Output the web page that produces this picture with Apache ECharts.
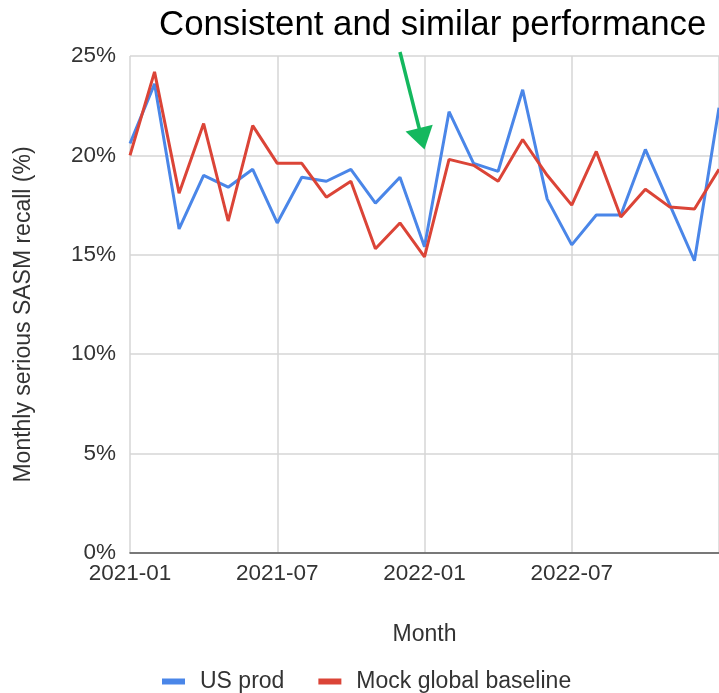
<!DOCTYPE html>
<html>
<head>
<meta charset="utf-8">
<script src="https://cdn.jsdelivr.net/npm/echarts@6/dist/echarts.min.js"></script>
<style>
  html, body { margin: 0; padding: 0; background: #fff; overflow: hidden; }
  #chart { width: 719px; height: 693px; }
</style>
</head>
<body>
<div id="chart"></div>
<script>
// monthly recall (percent)
const months = [
  '2021-01', '2021-02', '2021-03', '2021-04', '2021-05', '2021-06',
  '2021-07', '2021-08', '2021-09', '2021-10', '2021-11', '2021-12',
  '2022-01', '2022-02', '2022-03', '2022-04', '2022-05', '2022-06',
  '2022-07', '2022-08', '2022-09', '2022-10', '2022-11', '2022-12',
  '2023-01'
]
const usProd = [
  20.6, 23.6, 16.3, 19.0, 18.4, 19.3,
  16.6, 18.9, 18.7, 19.3, 17.6, 18.9,
  15.4, 22.2, 19.6, 19.2, 23.3, 17.8,
  15.5, 17.0, 17.0, 20.3, 17.5, 14.7,
  22.4
]
const mockBaseline = [
  20.0, 24.2, 18.1, 21.6, 16.7, 21.5,
  19.6, 19.6, 17.9, 18.7, 15.3, 16.6,
  14.9, 19.8, 19.5, 18.7, 20.8, 19.0,
  17.5, 20.2, 16.9, 18.3, 17.4, 17.3,
  19.3
]
const yTicks = { min: 0, max: 25, step: 5 }
// annotation arrow, in axis units (category index, percent)
const arrowFrom = [10.8, 25.2]
const arrowTo = [11.75, 20.3]

const FONT = "'Liberation Sans', Arial, sans-serif"
const TEXT = '#333'

const chart = echarts.init(document.getElementById('chart'))

chart.setOption({
  animation: false,
  title: {
    text: 'Consistent and similar performance',
    left: 154,
    top: 3,
    textStyle: { fontFamily: FONT, fontSize: 34.8, fontWeight: 'normal', color: '#000' }
  },
  grid: { left: 130, right: -2, top: 56, bottom: 140 },
  legend: {
    left: 157,
    top: 665,
    icon: 'rect',
    itemWidth: 23,
    itemHeight: 6,
    itemGap: 34,
    textStyle: { fontFamily: FONT, fontSize: 23, color: TEXT, padding: [0, 0, 0, 10] }
  },
  xAxis: {
    type: 'category',
    data: months,
    boundaryGap: false,
    name: 'Month',
    nameLocation: 'middle',
    nameGap: 70,
    nameTextStyle: { fontFamily: FONT, fontSize: 23, color: TEXT },
    axisLine: { lineStyle: { color: '#555', width: 1.5 } },
    axisTick: { show: false },
    axisLabel: {
      interval: (i) => i % 6 === 0 && i < months.length - 1,
      margin: 9,
      fontFamily: FONT,
      fontSize: 22.5,
      color: TEXT
    },
    splitLine: { show: true, interval: 5, lineStyle: { color: '#d6d6d6', width: 1.5 } }
  },
  yAxis: {
    type: 'value',
    min: yTicks.min,
    max: yTicks.max,
    interval: yTicks.step,
    name: 'Monthly serious SASM recall (%)',
    nameLocation: 'middle',
    nameGap: 95,
    nameTextStyle: { fontFamily: FONT, fontSize: 23, color: TEXT, padding: [0, 20, 0, 0] },
    axisLine: { show: false },
    axisTick: { show: false },
    axisLabel: {
      formatter: '{value}%',
      margin: 14,
      fontFamily: FONT,
      fontSize: 22.5,
      color: TEXT
    },
    splitLine: { lineStyle: { color: '#d6d6d6', width: 1.5 } }
  },
  series: [
    {
      name: 'US prod',
      type: 'line',
      data: usProd,
      symbol: 'none',
      itemStyle: { color: '#4a86e8' },
      lineStyle: { color: '#4a86e8', width: 3 }
    },
    {
      name: 'Mock global baseline',
      type: 'line',
      data: mockBaseline,
      symbol: 'none',
      itemStyle: { color: '#db4437' },
      lineStyle: { color: '#db4437', width: 3 }
    }
  ]
})

// arrow placed through the chart's own coordinate system
function drawArrow() {
  const a = chart.convertToPixel({ gridIndex: 0 }, arrowFrom)
  const b = chart.convertToPixel({ gridIndex: 0 }, arrowTo)
  const dx = b[0] - a[0]
  const dy = b[1] - a[1]
  const len = Math.sqrt(dx * dx + dy * dy)
  const ux = dx / len
  const uy = dy / len
  const headLen = 22
  const half = 14
  const bx = b[0] - ux * headLen
  const by = b[1] - uy * headLen
  const green = '#14b85e'
  chart.setOption({
    graphic: [
      {
        type: 'line',
        shape: { x1: a[0], y1: a[1], x2: bx + ux * 2, y2: by + uy * 2 },
        style: { stroke: green, lineWidth: 3.5 },
        z: 100
      },
      {
        type: 'polygon',
        shape: { points: [[b[0], b[1]], [bx - uy * half, by + ux * half], [bx + uy * half, by - ux * half]] },
        style: { fill: green },
        z: 100
      }
    ]
  })
}
drawArrow()
</script>
</body>
</html>
